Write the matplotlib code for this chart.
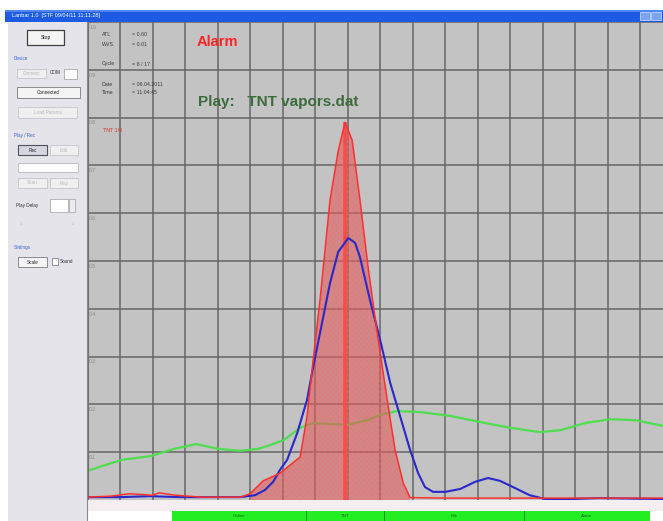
import numpy as np
import matplotlib
matplotlib.use('Agg')
import matplotlib.pyplot as plt
from matplotlib.patches import Rectangle

plt.rcParams['font.family'] = ['Liberation Sans', 'DejaVu Sans']
plt.rcParams['hatch.linewidth'] = 0.4

# spectrum traces (x in grid units, y in signal units 0..1)
red_x = [0.0, 0.7, 1.3, 2.0, 2.2, 2.7, 3.5, 4.1, 4.7, 5.0, 5.4, 5.92, 6.23, 6.54, 6.75, 6.94,
         7.15, 7.46, 7.71, 7.92, 8.14, 8.38, 8.63, 8.91, 9.22, 9.46, 9.71, 9.92, 11.0, 14.0, 17.7]
red_y = [0.006, 0.008, 0.013, 0.010, 0.015, 0.010, 0.006, 0.006, 0.006, 0.013, 0.040, 0.056,
         0.073, 0.090, 0.174, 0.293, 0.418, 0.628, 0.730, 0.790, 0.753, 0.628, 0.487, 0.349,
         0.209, 0.105, 0.036, 0.005, 0.004, 0.004, 0.004]

blue_x = [0.0, 1.0, 1.92, 2.85, 3.77, 4.69, 5.15, 5.46, 5.71, 5.92, 6.14, 6.45, 6.75, 6.94,
          7.15, 7.46, 7.71, 8.02, 8.23, 8.38, 8.69, 9.0, 9.31, 9.62, 9.92, 10.17, 10.38,
          10.63, 11.0, 11.46, 11.92, 12.32, 12.69, 13.15, 13.6, 14.08, 14.85, 15.77, 17.7]
blue_y = [0.006, 0.006, 0.008, 0.006, 0.006, 0.006, 0.010, 0.021, 0.038, 0.063, 0.084, 0.140,
          0.209, 0.278, 0.349, 0.454, 0.519, 0.548, 0.538, 0.508, 0.418, 0.335, 0.245, 0.174,
          0.105, 0.056, 0.027, 0.017, 0.017, 0.023, 0.038, 0.046, 0.040, 0.025, 0.010, 0.002,
          0.002, 0.004, 0.002]

green_x = [0.0, 0.54, 1.06, 1.95, 2.66, 3.34, 4.02, 4.69, 5.25, 5.62, 6.05, 6.54, 6.94, 7.98,
           8.6, 9.0, 9.52, 10.23, 11.15, 12.08, 13.0, 13.92, 14.54, 15.31, 16.08, 16.85, 17.7]
green_y = [0.061, 0.073, 0.084, 0.092, 0.107, 0.117, 0.107, 0.103, 0.107, 0.115, 0.126, 0.151,
           0.161, 0.157, 0.167, 0.178, 0.186, 0.184, 0.176, 0.163, 0.151, 0.142, 0.146, 0.161,
           0.169, 0.167, 0.155]

fill_start = 5.0
fill_end = 9.92

x_tick_labels = ['1.0', '1.7', '2.4', '3.1', '3.8', '4.5', '5.2', '5.9', '6.6', '7.3', '8.0',
                 '8.7', '9.4', '10.1', '10.8', '11.5', '12.2', '12.9']
y_tick_values = [0.1, 0.2, 0.3, 0.4, 0.5, 0.6, 0.7, 0.8, 0.9, 1.0]
y_tick_labels = ['0.1', '0.2', '0.3', '0.4', '0.5', '0.6', '0.7', '0.8', '0.9', '1.0']

info_names = ['ATL', 'WVS', 'Cycle', 'Date', 'Time']
info_values = ['= 0.60', '= 0.01', '= 8 / 17', '= 06.04.2011', '= 11:04:45']
status_names = ['Online', 'TNT', 'File', 'Alarm']

W, H = 663, 521
fig = plt.figure(figsize=(W / 100, H / 100), dpi=100)
fig.patch.set_facecolor('white')


def fx(px):
    return px / W


def fy(py):
    return 1 - py / H


def rect(x0, y0, x1, y1, fc, ec='none', lw=0.6, z=1):
    fig.patches.append(Rectangle((fx(x0), fy(y1)), (x1 - x0) / W, (y1 - y0) / H,
                                 transform=fig.transFigure, facecolor=fc, edgecolor=ec,
                                 linewidth=lw, zorder=z))


def label(px, py, s, size=4, color='#333333', ha='left', weight='normal'):
    fig.text(fx(px), fy(py), s, fontsize=size, color=color, ha=ha, va='center',
             fontweight=weight)


def button(x0, y0, x1, y1, s, state='normal'):
    if state == 'disabled':
        rect(x0, y0, x1, y1, '#efeff0', '#c4c4c8')
        label((x0 + x1) / 2, (y0 + y1) / 2, s, 3.3, '#b8b8b8', 'center')
    elif state == 'pressed':
        rect(x0, y0, x1, y1, '#d6d6de', '#505060', 0.8)
        label((x0 + x1) / 2, (y0 + y1) / 2, s, 3.3, '#222222', 'center')
    else:
        rect(x0, y0, x1, y1, '#f4f4f4', '#8a8a8a', 0.7)
        label((x0 + x1) / 2, (y0 + y1) / 2, s, 3.3, '#222222', 'center')


# window title bar
rect(5, 10, 663, 22, '#1d5ce2')
rect(5, 10, 663, 12, '#4f86f0')
label(12, 16, 'Lanbar 1.0  [STF 09/04/11 11:11:28]', 4, 'white')
rect(640, 12, 650, 20, '#7aa4f2', '#dde8ff', 0.5)
rect(651, 12, 661, 20, '#7aa4f2', '#dde8ff', 0.5)

# left control panel
rect(8, 22, 87, 521, '#e4e4ea')
fig.lines.append(plt.Line2D([fx(87), fx(87)], [fy(22), fy(521)], transform=fig.transFigure,
                            color='#8a8a8a', lw=0.8))
rect(27, 30, 64, 45, '#f4f4f4', '#404040', 0.9)
label(45.5, 37.5, 'Stop', 3.6, '#111111', 'center')

label(14, 58, 'Device', 3.3, '#3a64d0')
button(17, 69, 46, 78, 'Connect', 'disabled')
label(50, 73, 'COM', 3.3, '#333333')
rect(64, 69, 77, 79, 'white', '#9a9a9a', 0.5)
button(17, 87, 80, 98, 'Connected')
button(18, 107, 77, 118, 'Load Params', 'disabled')

label(14, 135, 'Play / Rec', 3.3, '#3a64d0')
button(18, 145, 47, 155, 'Rec', 'pressed')
button(50, 145, 78, 155, 'Edit', 'disabled')
rect(18, 163, 78, 172, 'white', '#b0b0b0', 0.5)
button(18, 178, 47, 188, 'Scan', 'disabled')
button(50, 178, 78, 188, 'Play', 'disabled')
label(16, 205, 'Play Delay', 3.3, '#333333')
rect(50, 199, 68, 212, 'white', '#a0a0a0', 0.5)
rect(69, 199, 75, 212, '#ececf0', '#a0a0a0', 0.5)
label(20, 224, '1', 3.0, '#c0c0c0')
label(72, 224, '2', 3.0, '#c0c0c0')

label(14, 248, 'Settings', 3.3, '#3a64d0')
button(18, 257, 47, 267, 'Scale')
rect(52, 258, 58, 265, 'white', '#707070', 0.5)
label(60, 261.5, 'Sound', 3.3, '#333333')

# tick label strip and status bar
rect(87, 500, 663, 511, '#f5eef0')
rect(172, 511, 650, 521, '#22ee22')
status_edges = [172, 306, 384, 524, 650]
for i, name in enumerate(status_names):
    x0, x1 = status_edges[i], status_edges[i + 1]
    if i > 0:
        fig.lines.append(plt.Line2D([fx(x0), fx(x0)], [fy(511), fy(521)],
                                    transform=fig.transFigure, color='#118811', lw=0.6))
    label((x0 + x1) / 2, 516, name, 3.2, '#116611', 'center')

# chart
ax = fig.add_axes([fx(87.5), fy(500), (W - 87.5) / W, 478 / H])
ax.set_facecolor('#c3c3c3')
ax.set_xlim(0, 17.7)
ax.set_ylim(0, 1)
ax.set_xticks(np.arange(len(x_tick_labels)))
ax.set_xticklabels(x_tick_labels, ha='left')
ax.set_yticks(y_tick_values)
ax.set_yticklabels([])
ax.tick_params(axis='x', length=0, labelsize=3.8, colors='#9a9a9a', pad=2.5)
ax.tick_params(axis='y', length=0)
ax.grid(True, color='#666666', lw=1.1, zorder=0.5)
ax.set_axisbelow(True)
for side in ['top', 'right', 'bottom']:
    ax.spines[side].set_visible(False)
ax.spines['left'].set_color('#707070')
for v, s in zip(y_tick_values, y_tick_labels):
    ax.text(0.05, v - 0.006, s, fontsize=3.6, color='#8a8a8a', va='top', ha='left')

ax.plot(green_x, green_y, color='#4fde4f', lw=1.6, zorder=2)

rx = np.array(red_x)
ry = np.array(red_y)
mask = (rx >= fill_start) & (rx <= fill_end)
ax.fill_between(rx[mask], 0, ry[mask], facecolor='#e05656', edgecolor='#f07070',
                hatch='xxxxxx', alpha=0.55, lw=0, zorder=3)
peak = int(np.argmax(ry))
ax.vlines(rx[peak], 0, ry[peak], color='#ff4a4a', lw=2.6, zorder=3.5)

ax.plot(blue_x, blue_y, color='#2a28c8', lw=1.5, zorder=4)
ax.plot(red_x, red_y, color='#ff3030', lw=1.1, zorder=5)

# overlay texts
for i, (n, v) in enumerate(zip(info_names, info_values)):
    py = [35, 45, 64, 84, 93][i]
    label(102, py, n, 3.8, '#3a3a3a')
    label(132, py, v, 3.8, '#3a3a3a')
label(197, 42, 'Alarm', 10.5, '#ff2424', weight='bold')
label(198, 102, 'Play:   TNT vapors.dat', 11, '#3d6b3d', weight='bold')
label(103, 130, 'TNT 1/4', 3.8, '#e03030')

fig.savefig('out.png', dpi=100)
